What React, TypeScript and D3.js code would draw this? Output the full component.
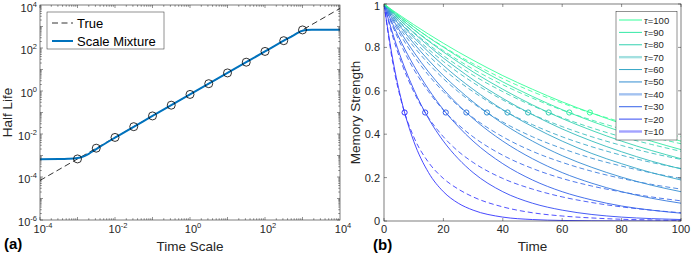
import React from "react";
import * as d3 from "d3";

// ---- panel (a): half life vs time scale ----
const trueScale = [1e-4, 1e4];
const trueHalfLife = [6.93e-5, 6930];

const circleScale = [0.001, 0.00316, 0.01, 0.0316, 0.1, 0.316, 1, 3.16, 10, 31.6, 100, 316, 1000];
const circleHalfLife = [0.000693, 0.00219, 0.00693, 0.0219, 0.0693, 0.219, 0.693, 2.19, 6.93, 21.9, 69.3, 219, 693];

// scale mixture curve, read as log10 values
const mixtureLogScale = [-4, -3.5, -3.25, -3, -2.85, -2.7, -2.5, -2.25, -2, -1, 0, 1, 2, 2.5, 2.75, 2.9, 3, 3.1, 3.25, 3.5, 4];
const mixtureLogHalfLife = [-3.17, -3.165, -3.155, -3.12, -3.05, -2.92, -2.7, -2.43, -2.17, -1.16, -0.16, 0.84, 1.84, 2.34, 2.58, 2.73, 2.8, 2.835, 2.845, 2.845, 2.845];

const logTicksA = [-4, -2, 0, 2, 4];
const logTicksAY = [-6, -4, -2, 0, 2, 4];

// ---- panel (b): memory strength vs time ----
const tauValues = [10, 20, 30, 40, 50, 60, 70, 80, 90, 100];
const timeGrid = [0, 3, 6, 10, 15, 20, 25, 30, 40, 50, 60, 70, 80, 90, 100];

const trueStrength = [
  [1, 0.741, 0.549, 0.368, 0.223, 0.135, 0.082, 0.05, 0.018, 0.0067, 0.0025, 0.0009, 0.0003, 0.0001, 0],
  [1, 0.861, 0.741, 0.607, 0.472, 0.368, 0.287, 0.223, 0.135, 0.082, 0.05, 0.03, 0.018, 0.011, 0.0067],
  [1, 0.905, 0.819, 0.717, 0.607, 0.513, 0.435, 0.368, 0.264, 0.189, 0.135, 0.097, 0.069, 0.05, 0.036],
  [1, 0.928, 0.861, 0.779, 0.687, 0.607, 0.535, 0.472, 0.368, 0.287, 0.223, 0.174, 0.135, 0.105, 0.082],
  [1, 0.942, 0.887, 0.819, 0.741, 0.67, 0.607, 0.549, 0.449, 0.368, 0.301, 0.247, 0.202, 0.165, 0.135],
  [1, 0.951, 0.905, 0.846, 0.779, 0.717, 0.659, 0.607, 0.513, 0.435, 0.368, 0.311, 0.264, 0.223, 0.189],
  [1, 0.958, 0.918, 0.867, 0.807, 0.751, 0.7, 0.651, 0.565, 0.49, 0.424, 0.368, 0.319, 0.276, 0.24],
  [1, 0.963, 0.928, 0.882, 0.829, 0.779, 0.732, 0.687, 0.607, 0.535, 0.472, 0.417, 0.368, 0.325, 0.287],
  [1, 0.967, 0.936, 0.895, 0.846, 0.801, 0.757, 0.717, 0.641, 0.574, 0.513, 0.459, 0.411, 0.368, 0.329],
  [1, 0.97, 0.942, 0.905, 0.861, 0.819, 0.779, 0.741, 0.67, 0.607, 0.549, 0.497, 0.449, 0.407, 0.368],
];

const mixtureStrength = [
  [1, 0.725, 0.543, 0.388, 0.27, 0.196, 0.147, 0.111, 0.065, 0.038, 0.023, 0.014, 0.008, 0.005, 0.003],
  [1, 0.847, 0.725, 0.596, 0.476, 0.388, 0.321, 0.27, 0.196, 0.147, 0.111, 0.085, 0.065, 0.05, 0.038],
  [1, 0.895, 0.804, 0.7, 0.596, 0.511, 0.444, 0.388, 0.303, 0.242, 0.196, 0.161, 0.134, 0.111, 0.093],
  [1, 0.919, 0.847, 0.762, 0.672, 0.596, 0.531, 0.476, 0.388, 0.321, 0.27, 0.229, 0.196, 0.169, 0.147],
  [1, 0.935, 0.875, 0.804, 0.725, 0.656, 0.596, 0.543, 0.456, 0.388, 0.334, 0.289, 0.253, 0.222, 0.196],
  [1, 0.945, 0.895, 0.832, 0.762, 0.7, 0.645, 0.596, 0.511, 0.444, 0.388, 0.342, 0.303, 0.27, 0.242],
  [1, 0.953, 0.909, 0.854, 0.791, 0.735, 0.684, 0.638, 0.558, 0.491, 0.435, 0.388, 0.348, 0.313, 0.284],
  [1, 0.959, 0.919, 0.87, 0.814, 0.762, 0.715, 0.672, 0.596, 0.531, 0.476, 0.429, 0.388, 0.353, 0.321],
  [1, 0.963, 0.928, 0.884, 0.832, 0.785, 0.741, 0.7, 0.628, 0.566, 0.511, 0.465, 0.424, 0.388, 0.356],
  [1, 0.967, 0.935, 0.895, 0.847, 0.804, 0.762, 0.725, 0.656, 0.596, 0.543, 0.497, 0.456, 0.42, 0.388],
];

const halfLifeTimes = [6.93, 13.86, 20.79, 27.73, 34.66, 41.59, 48.52, 55.45, 62.38, 69.31];
const legendThickTau = [70, 40, 10];

const timeTicks = [0, 20, 40, 60, 80, 100];
const strengthTicks = [0, 0.2, 0.4, 0.6, 0.8, 1];

const AX = "#262626";
const FONT = "'Liberation Sans', Arial, Helvetica, sans-serif";

function winter(tau: number) {
  const k = (tau - 10) / 90;
  const c = d3.rgb(0, 255 * k, 255 * (1 - 0.5 * k));
  return d3.interpolateRgb(c.formatHex(), "#ffffff")(0.2);
}

function Pow10({ x, y, exp, anchor }: { x: number; y: number; exp: number; anchor: string }) {
  return (
    <text x={x} y={y} fontSize={11} fill={AX} textAnchor={anchor} fontFamily={FONT}>
      10
      <tspan dy={-5} fontSize={7.5}>{String(exp)}</tspan>
    </text>
  );
}

function PanelA() {
  const L = 40, R = 340, T = 5, B = 220;
  const x = d3.scaleLog().domain([1e-4, 1e4]).range([L, R]);
  const y = d3.scaleLog().domain([1e-6, 1e4]).range([B, T]);
  const lineTrue = d3.line<number>().x((_, i) => x(trueScale[i])).y((d) => y(d));
  const lineMix = d3
    .line<number>()
    .x((_, i) => x(Math.pow(10, mixtureLogScale[i])))
    .y((d) => y(Math.pow(10, d)))
    .curve(d3.curveMonotoneX);

  const minorX: number[] = [];
  for (let e = -4; e < 4; e++) for (let m = 1; m < 10; m++) minorX.push(m * Math.pow(10, e));
  const minorY: number[] = [];
  for (let e = -6; e < 4; e++) for (let m = 1; m < 10; m++) minorY.push(m * Math.pow(10, e));

  return (
    <g>
      <defs>
        <clipPath id="clipA">
          <rect x={L} y={T} width={R - L} height={B - T} />
        </clipPath>
      </defs>
      <rect x={L} y={T} width={R - L} height={B - T} fill="#fff" />
      <g clipPath="url(#clipA)">
        <path d={lineTrue(trueHalfLife) || ""} fill="none" stroke="#000" strokeWidth={0.8} strokeDasharray="6 3.5" />
        <path d={lineMix(mixtureLogHalfLife) || ""} fill="none" stroke="#0072BD" strokeWidth={2} />
        {circleScale.map((s, i) => (
          <circle key={i} cx={x(s)} cy={y(circleHalfLife[i])} r={4} fill="none" stroke="#000" strokeWidth={0.8} />
        ))}
      </g>
      {/* ticks */}
      {minorX.map((v, i) => {
        const isMajor = Math.abs(Math.log10(v) - Math.round(Math.log10(v))) < 1e-9;
        const len = isMajor ? 3 : 1.8;
        return (
          <g key={"mx" + i} stroke={AX} strokeWidth={0.5}>
            <line x1={x(v)} x2={x(v)} y1={B} y2={B - len} />
            <line x1={x(v)} x2={x(v)} y1={T} y2={T + len} />
          </g>
        );
      })}
      {minorY.map((v, i) => {
        const isMajor = Math.abs(Math.log10(v) - Math.round(Math.log10(v))) < 1e-9;
        const len = isMajor ? 3 : 1.8;
        return (
          <g key={"my" + i} stroke={AX} strokeWidth={0.5}>
            <line x1={L} x2={L + len} y1={y(v)} y2={y(v)} />
            <line x1={R} x2={R - len} y1={y(v)} y2={y(v)} />
          </g>
        );
      })}
      <rect x={L} y={T} width={R - L} height={B - T} fill="none" stroke={AX} strokeWidth={0.6} />
      {logTicksA.map((e) => (
        <Pow10 key={"xl" + e} x={x(Math.pow(10, e)) + 3} y={233} exp={e} anchor="middle" />
      ))}
      {logTicksAY.map((e) => (
        <Pow10 key={"yl" + e} x={37} y={Math.max(y(Math.pow(10, e)) + 6, 12)} exp={e} anchor="end" />
      ))}
      <text x={(L + R) / 2} y={251} fontSize={13.5} fill={AX} textAnchor="middle" fontFamily={FONT}>
        Time Scale
      </text>
      <text
        transform={`translate(12,${(T + B) / 2}) rotate(-90)`}
        fontSize={13.5}
        fill={AX}
        textAnchor="middle"
        fontFamily={FONT}
      >
        Half Life
      </text>
      <text x={4} y={249} fontSize={15} fontWeight="bold" fill="#000" fontFamily={FONT}>
        (a)
      </text>
      {/* legend */}
      <rect x={47} y={12} width={117} height={37} fill="#fff" stroke={AX} strokeWidth={0.5} />
      <line x1={52} x2={73} y1={23} y2={23} stroke="#000" strokeWidth={0.8} strokeDasharray="6 3.5" />
      <text x={77} y={27.5} fontSize={13} fill="#000" fontFamily={FONT}>True</text>
      <line x1={52} x2={73} y1={41} y2={41} stroke="#0072BD" strokeWidth={2} />
      <text x={77} y={45.5} fontSize={13} fill="#000" fontFamily={FONT}>Scale Mixture</text>
    </g>
  );
}

function PanelB() {
  const L = 384, R = 681, T = 4, B = 221;
  const x = d3.scaleLinear().domain([0, 100]).range([L, R]);
  const y = d3.scaleLinear().domain([0, 1]).range([B, T]);
  const line = d3
    .line<number>()
    .x((_, i) => x(timeGrid[i]))
    .y((d) => y(d))
    .curve(d3.curveMonotoneX);
  const legendY = d3.scaleLinear().domain([100, 10]).range([20, 131.5]);

  return (
    <g>
      <defs>
        <clipPath id="clipB">
          <rect x={L} y={T} width={R - L} height={B - T} />
        </clipPath>
      </defs>
      <rect x={L} y={T} width={R - L} height={B - T} fill="#fff" />
      <g clipPath="url(#clipB)">
        {tauValues.map((tau, i) => (
          <g key={tau}>
            <path d={line(trueStrength[i]) || ""} fill="none" stroke={winter(tau)} strokeWidth={0.9} />
            <path
              d={line(mixtureStrength[i]) || ""}
              fill="none"
              stroke={winter(tau)}
              strokeWidth={0.85}
              strokeDasharray="5 3"
            />
          </g>
        ))}
        {tauValues.map((tau, i) => (
          <circle key={"c" + tau} cx={x(halfLifeTimes[i])} cy={y(0.5)} r={2.6} fill="none" stroke={winter(tau)} strokeWidth={1} />
        ))}
      </g>
      {timeTicks.map((t) => (
        <g key={"xt" + t} stroke={AX} strokeWidth={0.5}>
          <line x1={x(t)} x2={x(t)} y1={B} y2={B - 3} />
          <line x1={x(t)} x2={x(t)} y1={T} y2={T + 3} />
        </g>
      ))}
      {strengthTicks.map((s) => (
        <g key={"yt" + s} stroke={AX} strokeWidth={0.5}>
          <line x1={L} x2={L + 3} y1={y(s)} y2={y(s)} />
          <line x1={R} x2={R - 3} y1={y(s)} y2={y(s)} />
        </g>
      ))}
      <rect x={L} y={T} width={R - L} height={B - T} fill="none" stroke={AX} strokeWidth={0.6} />
      {timeTicks.map((t) => (
        <text key={"xl" + t} x={x(t)} y={233} fontSize={11} fill={AX} textAnchor="middle" fontFamily={FONT}>
          {t}
        </text>
      ))}
      {strengthTicks.map((s) => (
        <text key={"yl" + s} x={380} y={Math.max(y(s) + 4, 10)} fontSize={11} fill={AX} textAnchor="end" fontFamily={FONT}>
          {String(s)}
        </text>
      ))}
      <text x={(L + R) / 2} y={251} fontSize={13.5} fill={AX} textAnchor="middle" fontFamily={FONT}>
        Time
      </text>
      <text
        transform={`translate(360,${(T + B) / 2}) rotate(-90)`}
        fontSize={13.5}
        fill={AX}
        textAnchor="middle"
        fontFamily={FONT}
      >
        Memory Strength
      </text>
      <text x={373} y={250} fontSize={15} fontWeight="bold" fill="#000" fontFamily={FONT}>
        (b)
      </text>
      {/* legend */}
      <rect x={616} y={11.5} width={61} height={128.5} fill="#fff" stroke={AX} strokeWidth={0.5} />
      {tauValues
        .slice()
        .reverse()
        .map((tau) => {
          const thick = legendThickTau.includes(tau);
          const col = thick ? d3.interpolateRgb(winter(tau), "#ffffff")(0.55) : winter(tau);
          const ly = legendY(tau);
          return (
            <g key={"lg" + tau}>
              <line x1={619} x2={642} y1={ly} y2={ly} stroke={col} strokeWidth={thick ? 2.4 : 1} />
              <text x={644} y={ly + 3.5} fontSize={9.5} fill={AX} fontFamily={FONT}>
                <tspan fontFamily="'Liberation Serif', 'DejaVu Serif', serif" fontStyle="italic" fontSize={10.5}>
                  τ
                </tspan>
                ={tau}
              </text>
            </g>
          );
        })}
    </g>
  );
}

export default function App() {
  return (
    <svg
      width={692}
      height={256}
      viewBox="0 0 692 256"
      style={{ position: "absolute", left: 0, top: 0, background: "#fff" }}
    >
      <rect width={692} height={256} fill="#fff" />
      <PanelA />
      <PanelB />
    </svg>
  );
}
